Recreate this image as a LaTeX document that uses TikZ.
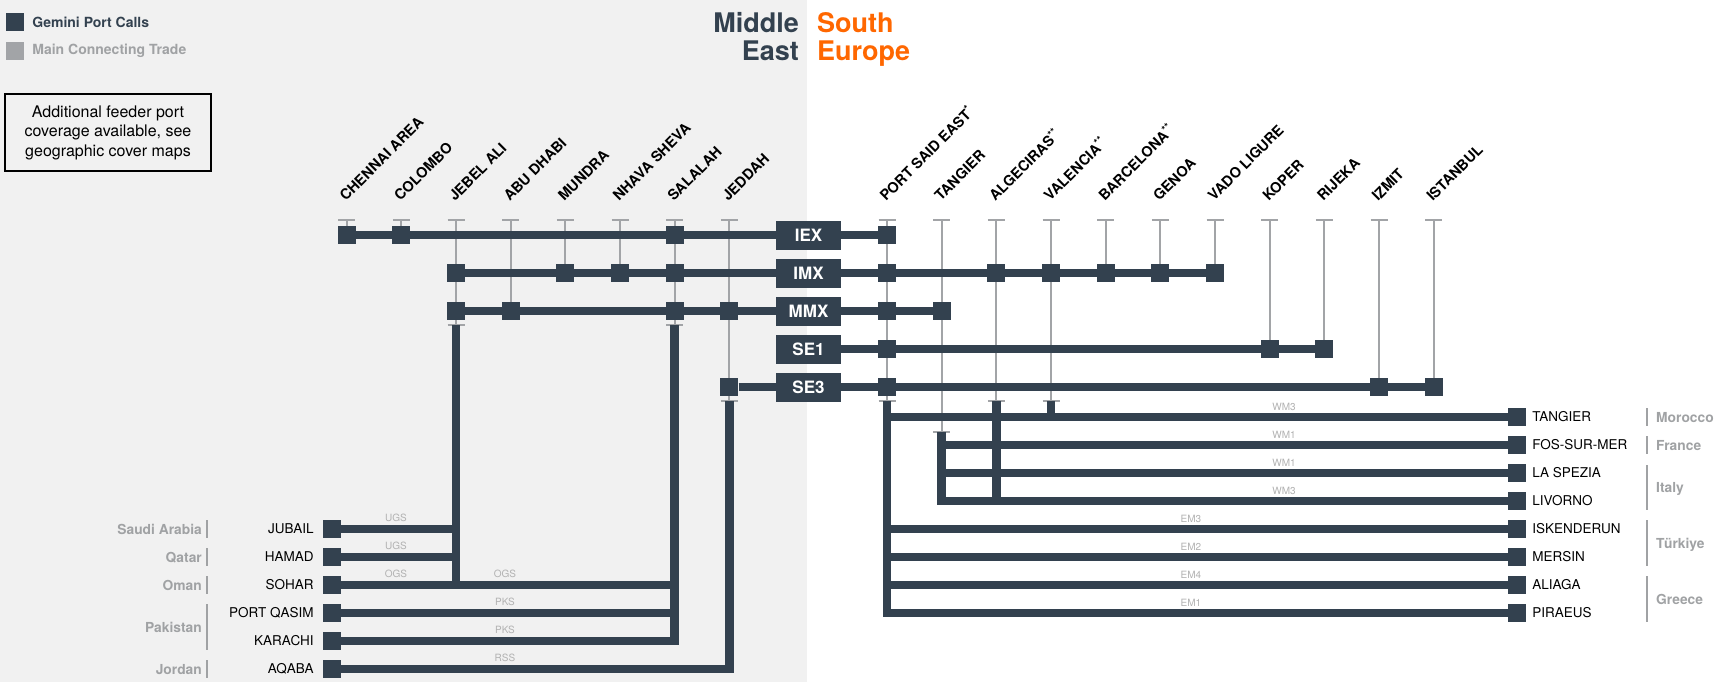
\documentclass[tikz,border=0pt]{standalone}
\usepackage{fontspec}
\setmainfont{TeX Gyre Heros}
\usepackage{tikz}
\usetikzlibrary{positioning}

\begin{document}
\begin{tikzpicture}[x=1pt, y=-1pt,
    svcbox/.style={fill=gemdark, text=white, font=\fontsize{17}{17}\selectfont\bfseries,
        minimum width=65pt, minimum height=29pt, inner sep=0pt},
    portsq/.style={fill=gemdark, minimum size=18pt, inner sep=0pt},
    toplabel/.style={rotate=45, anchor=base west, inner sep=0pt,
        font=\fontsize{14.5}{14.5}\selectfont\bfseries},
    portname/.style={inner sep=0pt, font=\fontsize{13.5}{13.5}\selectfont},
    country/.style={inner sep=0pt, text=countrygray, font=\fontsize{13.8}{13.8}\selectfont\bfseries},
    route/.style={inner sep=0pt, anchor=base, text=routegray, font=\fontsize{10}{10}\selectfont},
    service/.style={draw=gemdark, line width=8.5pt},
    trade/.style={draw=tradegray, line width=2.2pt},
    bar/.style={draw=countrygray, line width=2pt}
]

        % Define colors of the network chart
        \definecolor{gemdark}{RGB}{51, 65, 79}
        \definecolor{gemorange}{RGB}{255, 103, 0}
        \definecolor{tradegray}{RGB}{162, 164, 167}
        \definecolor{countrygray}{RGB}{160, 162, 164}
        \definecolor{routegray}{RGB}{178, 178, 178}
        \definecolor{regiongray}{RGB}{241, 241, 241}

        % Canvas and the Middle East half
        \useasboundingbox (0,0) rectangle (1719,682);
        \fill[white] (0,0) rectangle (1719,682);
        \fill[regiongray] (0,0) rectangle (807,682);

        % Legend
        \node[portsq] (leg-gemini) at (15,22) {};
        \node[inner sep=0pt, right=8pt of leg-gemini, text=gemdark,
            font=\fontsize{14}{14}\selectfont\bfseries] (leg-gemini-txt) {Gemini Port Calls};
        \node[portsq, fill=tradegray] (leg-trade) at (15,51) {};
        \node[inner sep=0pt, right=8pt of leg-trade, text=countrygray,
            font=\fontsize{14}{14}\selectfont\bfseries] (leg-trade-txt) {Main Connecting Trade};

        % Feeder note
        \node[draw=black, line width=1.6pt, minimum width=206pt, minimum height=77pt, align=center,
            font=\fontsize{16}{19.5}\selectfont] (note) at (108,132.5)
            {Additional feeder port\\coverage available, see\\geographic cover maps};

        % Region titles
        \node[anchor=base east, inner sep=0pt, text=gemdark, font=\fontsize{27}{27}\selectfont\bfseries]
            (t-middle) at (799,33) {Middle};
        \node[anchor=base east, inner sep=0pt, text=gemdark, font=\fontsize{27}{27}\selectfont\bfseries]
            (t-east) at (799,61) {East};
        \node[anchor=base west, inner sep=0pt, text=gemorange, font=\fontsize{27}{27}\selectfont\bfseries]
            (t-south) at (817,33) {South};
        \node[anchor=base west, inner sep=0pt, text=gemorange, font=\fontsize{27}{27}\selectfont\bfseries]
            (t-europe) at (817,61) {Europe};

        % Port columns with their rotated names
        \foreach \n/\x/\t in {chennai/346.7/CHENNAI AREA, colombo/401.3/COLOMBO, jebel/456/JEBEL ALI,
                abudhabi/510.7/ABU DHABI, mundra/565.3/MUNDRA, nhava/620/NHAVA SHEVA,
                salalah/674.7/SALALAH, jeddah/729.3/JEDDAH,
                portsaid/887/{PORT SAID EAST\textsuperscript{*}}, tangier/941.7/TANGIER,
                algeciras/996.3/{ALGECIRAS\textsuperscript{**}}, valencia/1051/{VALENCIA\textsuperscript{**}},
                barcelona/1105.7/{BARCELONA\textsuperscript{**}}, genoa/1160.3/GENOA,
                vado/1215/VADO LIGURE, koper/1269.7/KOPER, rijeka/1324.3/RIJEKA,
                izmit/1379/IZMIT, istanbul/1433.7/ISTANBUL} {
            \coordinate (\n) at (\x,220);
            \node[toplabel] (lbl-\n) at (\x-1,202) {\t};
        }

        % Main connecting trade (gray stems)
        \foreach \n/\e in {chennai/235, colombo/235, jebel/325, abudhabi/311, mundra/273, nhava/273,
                salalah/325, jeddah/401, portsaid/401, tangier/432, algeciras/401, valencia/401,
                barcelona/273, genoa/273, vado/273, koper/349, rijeka/349, izmit/387, istanbul/387} {
            \draw[trade] (\n) -- (\n |- 0,\e);
            \draw[trade] ([xshift=-8.5pt]\n) -- ([xshift=8.5pt]\n);
        }
        \foreach \n/\e in {jebel/325, salalah/325, jeddah/401, portsaid/401,
                tangier/432, algeciras/401, valencia/401} {
            \coordinate (\n-b) at (\n |- 0,\e);
            \draw[trade] ([xshift=-8.5pt]\n-b) -- ([xshift=8.5pt]\n-b);
        }

        % Services
        \node[svcbox] (iex) at (808.5,235) {IEX};
        \node[svcbox] (imx) at (808.5,273) {IMX};
        \node[svcbox] (mmx) at (808.5,311) {MMX};
        \node[svcbox] (se1) at (808.5,349) {SE1};
        \node[svcbox] (se3) at (808.5,387) {SE3};

        \foreach \n in {chennai, colombo, salalah, portsaid}
            \node[portsq] (iex-\n) at (\n |- iex) {};
        \foreach \n in {jebel, mundra, nhava, salalah, portsaid, algeciras, valencia, barcelona, genoa, vado}
            \node[portsq] (imx-\n) at (\n |- imx) {};
        \foreach \n in {jebel, abudhabi, salalah, jeddah, portsaid, tangier}
            \node[portsq] (mmx-\n) at (\n |- mmx) {};
        \foreach \n in {portsaid, koper, rijeka}
            \node[portsq] (se1-\n) at (\n |- se1) {};
        \foreach \n in {jeddah, portsaid, izmit, istanbul}
            \node[portsq] (se3-\n) at (\n |- se3) {};

        \draw[service] (iex-chennai) -- (iex) -- (iex-portsaid);
        \draw[service] (imx-jebel) -- (imx) -- (imx-vado);
        \draw[service] (mmx-jebel) -- (mmx) -- (mmx-tangier);
        \draw[service] (se1) -- (se1-rijeka);
        \draw[service] (se3-jeddah) -- (se3) -- (se3-istanbul);

        % Middle East feeders
        \foreach \n/\y/\t in {jubail/529/JUBAIL, hamad/557/HAMAD, sohar/585/SOHAR,
                qasim/613/PORT QASIM, karachi/641/KARACHI, aqaba/669/AQABA} {
            \node[portsq] (me-\n) at (332,\y) {};
            \node[portname, left=9pt of me-\n] (name-\n) {\t};
        }
        \draw[service] (me-jubail) -- (me-jubail -| jebel-b);
        \draw[service] (me-hamad) -- (me-hamad -| jebel-b);
        \draw[service] (me-sohar) -| (jebel-b);
        \draw[service] (me-sohar) -| (salalah-b);
        \draw[service] (me-qasim) -- (me-qasim -| salalah-b);
        \draw[service] (me-karachi) -| (salalah-b);
        \draw[service] (me-aqaba) -| (jeddah-b);

        % South Europe feeders
        \foreach \n/\y/\t in {tangier/417/TANGIER, fos/445/FOS-SUR-MER, spezia/473/LA SPEZIA,
                livorno/501/LIVORNO, iskenderun/529/ISKENDERUN, mersin/557/MERSIN,
                aliaga/585/ALIAGA, piraeus/613/PIRAEUS} {
            \node[portsq] (eu-\n) at (1517,\y) {};
            \node[portname, right=6pt of eu-\n] (name-eu-\n) {\t};
        }
        \draw[service] (portsaid-b) |- (eu-piraeus);
        \foreach \n in {tangier, iskenderun, mersin, aliaga}
            \draw[service] (eu-\n -| portsaid-b) -- (eu-\n);
        \draw[service] (tangier-b) |- (eu-livorno);
        \foreach \n in {fos, spezia}
            \draw[service] (eu-\n -| tangier-b) -- (eu-\n);
        \draw[service] (algeciras-b) -- (algeciras-b |- eu-livorno);
        \draw[service] (valencia-b) -- (valencia-b |- eu-tangier);

        % Feeder service names
        \node[route] (rt-ugs1) at (396,521) {UGS};
        \node[route] (rt-ugs2) at (396,549) {UGS};
        \node[route] (rt-ogs1) at (396,577) {OGS};
        \node[route] (rt-ogs2) at (505,577) {OGS};
        \node[route] (rt-pks1) at (505,605) {PKS};
        \node[route] (rt-pks2) at (505,633) {PKS};
        \node[route] (rt-rss) at (505,661) {RSS};
        \node[route] (rt-wm3a) at (1284,410) {WM3};
        \node[route] (rt-wm1a) at (1284,438) {WM1};
        \node[route] (rt-wm1b) at (1284,466) {WM1};
        \node[route] (rt-wm3b) at (1284,494) {WM3};
        \node[route] (rt-em3) at (1191,522) {EM3};
        \node[route] (rt-em2) at (1191,550) {EM2};
        \node[route] (rt-em4) at (1191,578) {EM4};
        \node[route] (rt-em1) at (1191,606) {EM1};

        % Countries
        \foreach \n/\y/\a/\b/\t in {saudi/529/520/538/Saudi Arabia, qatar/557/548/566/Qatar,
                oman/585/576/594/Oman, pakistan/627/604/650/Pakistan, jordan/669/660/678/Jordan} {
            \node[country, anchor=base east] (ct-\n) at (202,\y+5) {\t};
            \draw[bar] (207,\a) -- (207,\b);
        }
        \foreach \n/\y/\a/\b/\t in {morocco/417/408/426/Morocco, france/445/436/454/France,
                italy/487/465/510/Italy, turkiye/543/520/566/Türkiye, greece/599/576/622/Greece} {
            \node[country, anchor=base west] (ct-\n) at (1656,\y+5) {\t};
            \draw[bar] (1647,\a) -- (1647,\b);
        }

    \end{tikzpicture}
\end{document}
